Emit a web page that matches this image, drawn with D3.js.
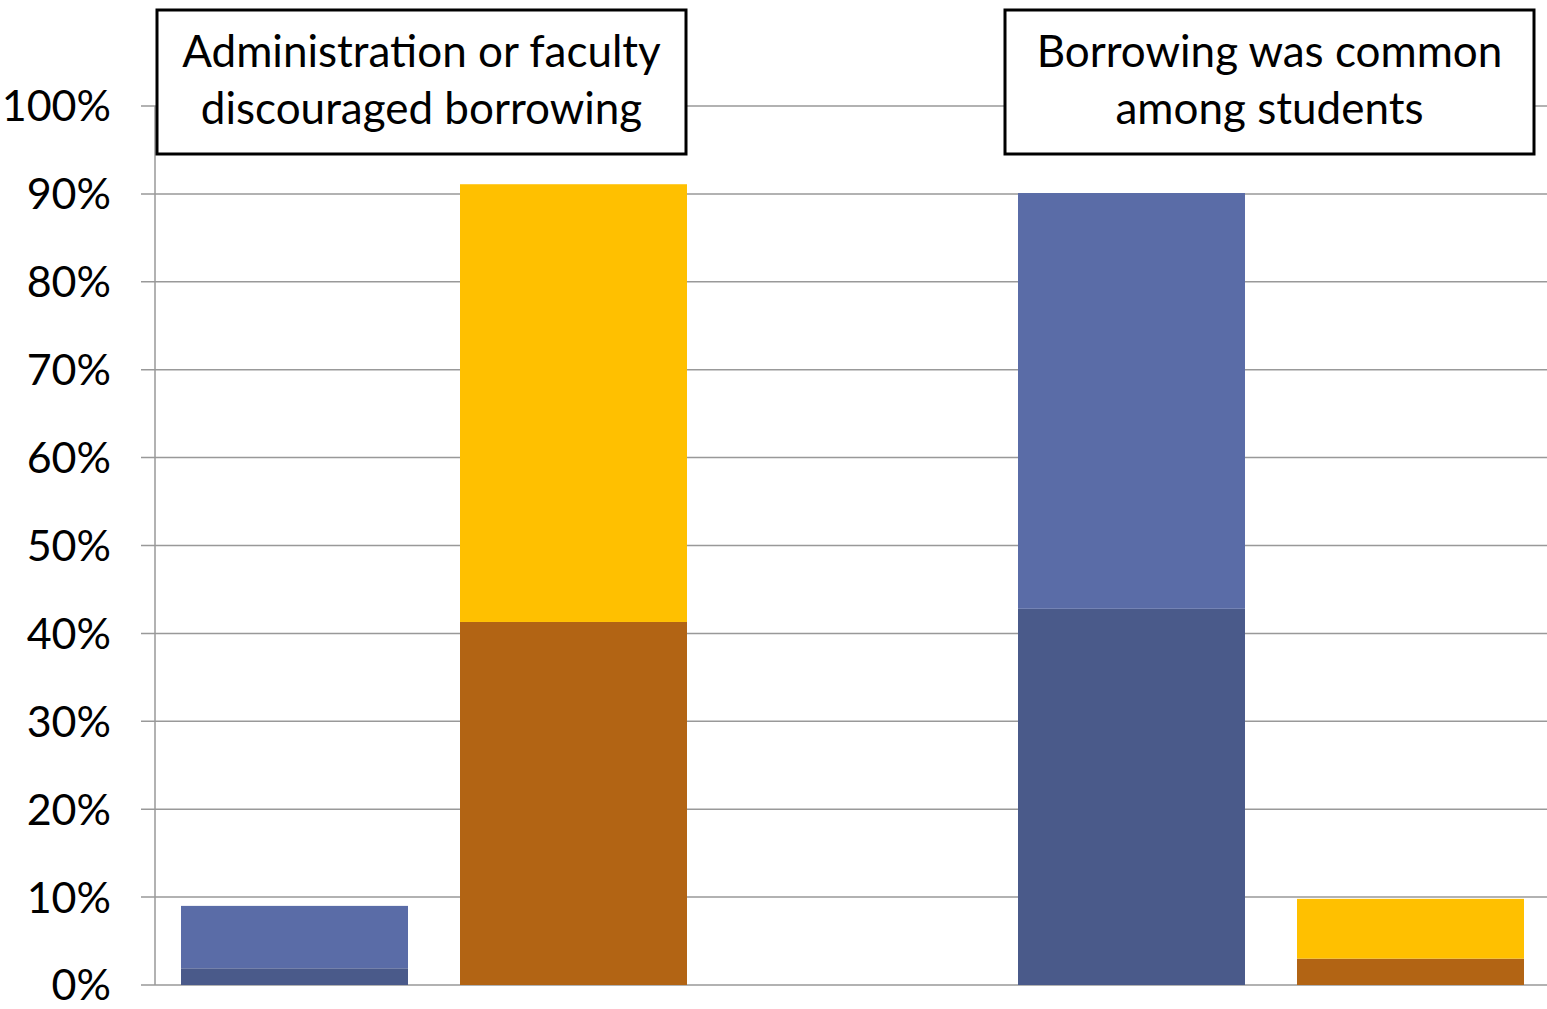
<!DOCTYPE html>
<html>
<head>
<meta charset="utf-8">
<script src="https://cdn.jsdelivr.net/npm/d3@7"></script>
<style>
  html, body { margin: 0; padding: 0; background: #fff; }
  svg { display: block; }
  text { font-family: Lato, "Open Sans", sans-serif; fill: #000; }
</style>
</head>
<body>
<svg id="chart" width="1547" height="1009"></svg>
<script>
// ---- data ----
const categories = ["Admin: yes", "Admin: no", "", "Common: yes", "Common: no"];
const lowerValues = [1.9, 41.3, null, 42.8, 3.0];   // darker bottom segment
const upperValues = [7.1, 49.8, null, 47.3, 6.8];   // lighter top segment
const lowerColors = ["#4a5a8a", "#b26414", null, "#4a5a8a", "#b26414"];
const upperColors = ["#5a6ca7", "#ffc000", null, "#5a6ca7", "#ffc000"];
const tickValues = [0, 10, 20, 30, 40, 50, 60, 70, 80, 90, 100];
const tickLabels = ["0%", "10%", "20%", "30%", "40%", "50%", "60%", "70%", "80%", "90%", "100%"];
const boxLabels = [
  ["Administration or faculty", "discouraged borrowing"],
  ["Borrowing was common", "among students"]
];

// ---- layout ----
const svg = d3.select("#chart");
const plotLeft = 155, plotRight = 1547, plotTop = 106, plotBottom = 985;

const x = d3.scaleBand().domain(categories).range([plotLeft, 1550])
  .paddingInner(0.1864).paddingOuter(0.0932);
const y = d3.scaleLinear().domain([0, 100]).range([plotBottom, plotTop]);

// gridlines
svg.append("g").selectAll("line").data(tickValues).join("line")
  .attr("x1", plotLeft - 14).attr("x2", plotRight)
  .attr("y1", d => y(d)).attr("y2", d => y(d))
  .attr("stroke", "#999").attr("stroke-width", 1.5);

// y axis line
svg.append("line").attr("x1", plotLeft).attr("x2", plotLeft).attr("y1", y(100)).attr("y2", plotBottom)
  .attr("stroke", "#999").attr("stroke-width", 1.5);

// tick labels
svg.append("g").selectAll("text").data(tickValues).join("text")
  .attr("x", 111).attr("y", d => y(d)).attr("dy", "0.36em")
  .attr("text-anchor", "end")
  .attr("font-size", 43)
  .text((d, i) => tickLabels[i]);

// bars
const rows = categories.map((c, i) => ({c, lo: lowerValues[i], hi: upperValues[i], lc: lowerColors[i], uc: upperColors[i]}))
  .filter(d => d.lo !== null);
const g = svg.append("g");
g.selectAll("rect.lo").data(rows).join("rect").attr("class", "lo")
  .attr("x", d => x(d.c)).attr("width", x.bandwidth())
  .attr("y", d => y(d.lo)).attr("height", d => y(0) - y(d.lo))
  .attr("fill", d => d.lc);
g.selectAll("rect.hi").data(rows).join("rect").attr("class", "hi")
  .attr("x", d => x(d.c)).attr("width", x.bandwidth())
  .attr("y", d => y(d.lo + d.hi)).attr("height", d => y(d.lo) - y(d.lo + d.hi))
  .attr("fill", d => d.uc);

// annotation boxes
const boxX = [157, 1005];
boxLabels.forEach((lines, i) => {
  const bg = svg.append("g");
  bg.append("rect").attr("x", boxX[i]).attr("y", 10).attr("width", 529).attr("height", 144)
    .attr("fill", "#fff").attr("stroke", "#000").attr("stroke-width", 3);
  lines.forEach((t, j) => {
    bg.append("text").attr("x", boxX[i] + 264.5).attr("y", 67 + j * 57)
      .attr("text-anchor", "middle").attr("font-size", 44).text(t);
  });
});
</script>
</body>
</html>
